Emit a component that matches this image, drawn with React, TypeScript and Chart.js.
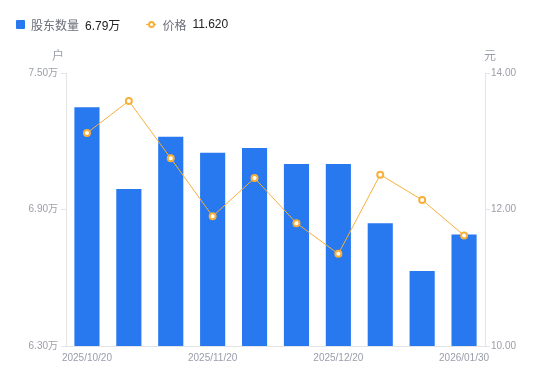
import React, { useEffect, useRef } from "react";
import { Chart, registerables } from "chart.js";

Chart.register(...registerables);

const dates = [
  "2025/10/20",
  "2025/10/31",
  "2025/11/10",
  "2025/11/20",
  "2025/11/30",
  "2025/12/10",
  "2025/12/20",
  "2025/12/31",
  "2026/01/20",
  "2026/01/30",
];
const holders = [7.35, 6.99, 7.22, 7.15, 7.17, 7.1, 7.1, 6.84, 6.63, 6.79];
const prices = [13.12, 13.59, 12.75, 11.9, 12.46, 11.8, 11.35, 12.51, 12.14, 11.62];
const leftTicks = [6.3, 6.9, 7.5];
const rightTicks = [10, 12, 14];

const FONT = '"Liberation Sans", "Noto Sans CJK SC", Arial, sans-serif';
const BLUE = "#2878F0";
const ORANGE = "#F7B03A";
const TICK = "#9A9DAA";
const AXIS = "#E3E4E8";

export default function App() {
  const ref = useRef<HTMLCanvasElement | null>(null);
  useEffect(() => {
    document.body.style.margin = "0";
    const titles = {
      id: "axisTitles",
      afterDraw(chart: any) {
        const c = chart.ctx;
        const a = chart.chartArea;
        c.save();
        c.font = `12px ${FONT}`;
        c.fillStyle = TICK;
        c.textAlign = "center";
        c.textBaseline = "middle";
        c.fillText("户", a.left - 8, 57);
        c.fillText("元", a.right + 5, 57);
        c.restore();
      },
    };
    const chart = new Chart(ref.current as HTMLCanvasElement, {
      type: "bar",
      data: {
        labels: dates,
        datasets: [
          {
            type: "line",
            label: "价格",
            data: prices,
            yAxisID: "y1",
            borderColor: ORANGE,
            borderWidth: 1,
            pointRadius: 3,
            pointBorderWidth: 2,
            pointBackgroundColor: "#ffffff",
            pointBorderColor: ORANGE,
            order: 0,
          } as any,
          {
            type: "bar",
            label: "股东数量",
            data: holders,
            yAxisID: "y",
            backgroundColor: BLUE,
            categoryPercentage: 0.6,
            barPercentage: 1,
            order: 1,
          },
        ],
      },
      options: {
        animation: false,
        responsive: false,
        layout: { padding: { top: 73, left: 0, right: 0, bottom: 0 } },
        plugins: { legend: { display: false }, tooltip: { enabled: false } },
        scales: {
          x: {
            grid: { display: false, drawTicks: false },
            border: { display: true, color: AXIS },
            ticks: {
              autoSkip: false,
              maxRotation: 0,
              padding: 6,
              color: TICK,
              font: { family: FONT, size: 10 },
              callback: (_v: any, i: number) => (i % 3 === 0 ? dates[i] : ""),
            },
            afterFit: (s: any) => {
              s.height = 35;
            },
          },
          y: {
            position: "left",
            min: 6.3,
            max: 7.5,
            afterBuildTicks: (s: any) => {
              s.ticks = leftTicks.map((v) => ({ value: v }));
            },
            grid: { drawOnChartArea: false, drawTicks: true, tickLength: 5, color: AXIS },
            border: { display: true, color: AXIS },
            ticks: {
              padding: 3,
              color: TICK,
              font: { family: FONT, size: 10 },
              callback: (v: any) => Number(v).toFixed(2) + "万",
            },
            afterFit: (s: any) => {
              s.width = 66;
            },
          },
          y1: {
            position: "right",
            min: 10,
            max: 14,
            afterBuildTicks: (s: any) => {
              s.ticks = rightTicks.map((v) => ({ value: v }));
            },
            grid: { drawOnChartArea: false, drawTicks: true, tickLength: 5, color: AXIS },
            border: { display: true, color: AXIS },
            ticks: {
              padding: 1,
              color: TICK,
              font: { family: FONT, size: 10 },
              callback: (v: any) => Number(v).toFixed(2),
            },
            afterFit: (s: any) => {
              s.width = 65;
            },
          },
        },
      } as any,
      plugins: [titles],
    });
    return () => chart.destroy();
  }, []);

  const lastH = holders[holders.length - 1].toFixed(2) + "万";
  const lastP = prices[prices.length - 1].toFixed(3);
  const txt: React.CSSProperties = { fontFamily: FONT, fontSize: 12, whiteSpace: "nowrap" };
  return (
    <div style={{ position: "relative", width: 550, height: 381, background: "#fff" }}>
      <canvas ref={ref} width={550} height={381} style={{ position: "absolute", left: 0, top: 0 }} />
      <div style={{ position: "absolute", left: 16, top: 16, height: 16, display: "flex", alignItems: "center" }}>
        <span style={{ display: "inline-block", width: 9, height: 9, background: BLUE, borderRadius: 1 }} />
        <span style={{ ...txt, color: "#6B6E78", marginLeft: 6 }}>股东数量</span>
        <span style={{ ...txt, color: "#222", marginLeft: 6 }}>{lastH}</span>
        <span style={{ position: "relative", display: "inline-block", width: 10, height: 9, marginLeft: 26 }}>
          <span style={{ position: "absolute", left: 0, top: 4, width: 10, height: 1, background: ORANGE }} />
          <span style={{ position: "absolute", left: 2, top: 1, width: 3, height: 3, border: `2px solid ${ORANGE}`, borderRadius: "50%", background: "#fff" }} />
        </span>
        <span style={{ ...txt, color: "#6B6E78", marginLeft: 6 }}>价格</span>
        <span style={{ ...txt, color: "#222", marginLeft: 6 }}>{lastP}</span>
      </div>
    </div>
  );
}
